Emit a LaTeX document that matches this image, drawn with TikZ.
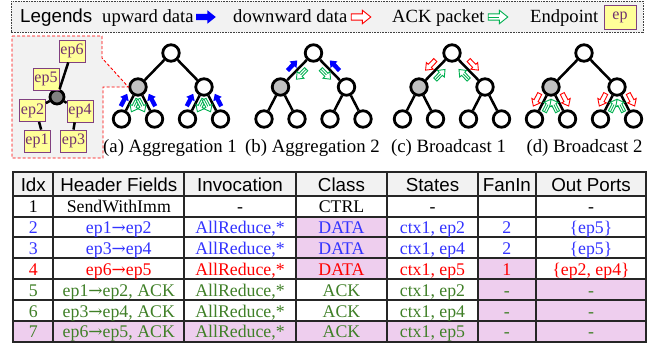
\documentclass[tikz,border=0pt]{standalone}
\usepackage{fontspec}
\setmainfont{Liberation Serif}
\setsansfont{Liberation Sans}
\newfontfamily\arrowfont{DejaVu Serif}
\usetikzlibrary{calc}
\definecolor{pinkc}{RGB}{238,206,238}
\definecolor{hdrgray}{RGB}{242,242,242}
\definecolor{bluet}{RGB}{51,51,255}
\definecolor{redt}{RGB}{255,0,0}
\definecolor{greent}{RGB}{64,128,40}
\definecolor{arrgreen}{RGB}{0,176,80}
\definecolor{epfill}{RGB}{255,255,153}
\definecolor{epdraw}{RGB}{128,64,128}
\definecolor{eptext}{RGB}{112,48,112}
\definecolor{nodegray}{RGB}{192,192,192}
\definecolor{midgray}{RGB}{128,128,128}
\newcommand\bodyfont{\fontsize{17.8}{20}\selectfont}
\newcommand\hdrfont{\sffamily\fontsize{18.8}{20}\selectfont}
\newcommand\rarr{{\arrowfont\fontsize{17}{20}\selectfont →}}
\tikzset{
 pics/dataarr/.style n args={3}{code={\begin{scope}[yshift=#1,xscale=#2]
   \path[#3] (-7,-2.2) -- (1,-2.2) -- (1,-4.8) -- (7,0) -- (1,4.8) -- (1,2.2) -- (-7,2.2) -- cycle;\end{scope}}},
 pics/ackarr/.style n args={2}{code={\begin{scope}[yshift=#1,xscale=#2]
   \path[ackstyle] (-7,-2.2) -- (1,-2.2) -- (1,-4.8) -- (7,0) -- (1,4.8) -- (1,2.2) -- (-7,2.2) -- cycle;
   \draw[arrgreen, line width=0.8pt] (-7,0) -- (1,0);\end{scope}}},
 upstyle/.style={fill=blue},
 downstyle/.style={draw=red, fill=white, line width=0.9pt},
 ackstyle/.style={draw=arrgreen, fill=white, line width=0.9pt},
 tnode/.style={circle, draw=black, line width=2.8pt, fill=white, minimum size=16.5pt, inner sep=0pt},
 gnode/.style={tnode, fill=nodegray},
 edge/.style={line width=2.5pt},
 onedge/.style={pos=0.5, sloped, allow upside down},
 epbox/.style={draw=epdraw, fill=epfill, text=eptext, line width=0.8pt, minimum width=26pt, minimum height=22pt, inner sep=1pt, font=\fontsize{16}{16}\selectfont},
 cell/.style={anchor=base, inner sep=0pt, font=\bodyfont},
 hcell/.style={anchor=base, inner sep=0pt, font=\hdrfont},
 legtext/.style={anchor=base west, inner sep=0pt, font=\fontsize{18.6}{20}\selectfont},
 captext/.style={anchor=base, inner sep=0pt, font=\fontsize{18.8}{20}\selectfont},
 grid/.style={line width=1.8pt, black!85},
}
\newcommand\drawtree[2]{%
 \node[tnode] (#1r) at (#2,53) {};
 \node[gnode] (#1L) at (#2-33,87) {};
 \node[tnode] (#1R) at (#2+33,87) {};
 \node[tnode] (#1a) at (#2-49.5,119) {};
 \node[tnode] (#1b) at (#2-16.5,119) {};
 \node[tnode] (#1c) at (#2+16.5,119) {};
 \node[tnode] (#1d) at (#2+49.5,119) {};
 \draw[edge] (#1r) -- (#1L);
 \draw[edge] (#1r) -- (#1R);
 \draw[edge] (#1L) -- (#1a);
 \draw[edge] (#1L) -- (#1b);
 \draw[edge] (#1R) -- (#1c);
 \draw[edge] (#1R) -- (#1d);
}
\newcommand\trow[9]{%
 \node[cell] (r#1c1) at (33.3,#2) {#3};
 \node[cell] (r#1c2) at (118.8,#2) {#4};
 \node[cell] (r#1c3) at (240,#2) {#5};
 \node[cell] (r#1c4) at (341.5,#2) {#6};
 \node[cell] (r#1c5) at (432.5,#2) {#7};
 \node[cell] (r#1c6) at (506.9,#2) {#8};
 \node[cell] (r#1c7) at (591,#2) {#9};}
\begin{document}
\begin{tikzpicture}[x=1pt,y=-1pt]
\useasboundingbox (0,0) rectangle (662,348);
\fill[white] (0,0) rectangle (662,348);
% legend
\path[draw=black!75, dash pattern=on 0.8pt off 0.8pt, line width=0.8pt, fill=hdrgray] (11,1) rectangle (643,32);
\node[anchor=base west, inner sep=0pt, font=\sffamily\fontsize{18.8}{20}\selectfont] (lg) at (20,23) {Legends};
\node[legtext] (lup) at (102,23) {upward data};
\pic[scale=1.4] at (206,17) {dataarr={0pt}{1}{upstyle}};
\node[legtext] (ldn) at (233,23) {downward data};
\pic[scale=1.4] at (361,17) {dataarr={0pt}{1}{downstyle}};
\node[legtext] (lack) at (392,23) {ACK packet};
\pic[scale=1.4] at (498,17) {ackarr={0pt}{1}};
\node[legtext] (lend) at (530,23) {Endpoint};
\node[epbox, minimum width=32pt, minimum height=24pt] (lep) at (620,17) {ep};
% trees
\drawtree{a}{171}
\drawtree{b}{313.5}
\drawtree{c}{452}
\drawtree{d}{584}
% tree a arrows
\path (aL) -- (aa) pic[onedge] {dataarr={-6.5pt}{-1}{upstyle}};
\path (aL) -- (aa) pic[onedge] {ackarr={5.5pt}{1}};
\path (aL) -- (ab) pic[onedge] {dataarr={6.5pt}{-1}{upstyle}};
\path (aL) -- (ab) pic[onedge] {ackarr={-5.5pt}{1}};
\path (aR) -- (ac) pic[onedge] {dataarr={-6.5pt}{-1}{upstyle}};
\path (aR) -- (ac) pic[onedge] {ackarr={5.5pt}{1}};
\path (aR) -- (ad) pic[onedge] {dataarr={6.5pt}{-1}{upstyle}};
\path (aR) -- (ad) pic[onedge] {ackarr={-5.5pt}{1}};
% tree b arrows
\path (br) -- (bL) pic[onedge] {dataarr={-6.5pt}{-1}{upstyle}};
\path (br) -- (bL) pic[onedge] {ackarr={6pt}{1}};
\path (br) -- (bR) pic[onedge] {dataarr={6.5pt}{-1}{upstyle}};
\path (br) -- (bR) pic[onedge] {ackarr={-6pt}{1}};
% tree c arrows
\path (cr) -- (cL) pic[onedge] {dataarr={-7pt}{1}{downstyle}};
\path (cr) -- (cL) pic[onedge] {ackarr={6.5pt}{-1}};
\path (cr) -- (cR) pic[onedge] {dataarr={7pt}{1}{downstyle}};
\path (cr) -- (cR) pic[onedge] {ackarr={-6.5pt}{-1}};
% tree d arrows
\path (dL) -- (da) pic[onedge] {dataarr={-7pt}{1}{downstyle}};
\path (dL) -- (da) pic[onedge] {ackarr={5.5pt}{-1}};
\path (dL) -- (db) pic[onedge] {dataarr={7pt}{1}{downstyle}};
\path (dL) -- (db) pic[onedge] {ackarr={-5.5pt}{-1}};
\path (dR) -- (dc) pic[onedge] {dataarr={-7pt}{1}{downstyle}};
\path (dR) -- (dc) pic[onedge] {ackarr={5.5pt}{-1}};
\path (dR) -- (dd) pic[onedge] {dataarr={7pt}{1}{downstyle}};
\path (dR) -- (dd) pic[onedge] {ackarr={-5.5pt}{-1}};
% callout
\path[draw=red, dash pattern=on 3pt off 2pt, line width=0.9pt, fill=hdrgray] (12,36) -- (102,36) -- (102,58) -- (aL.west) -- (103,87) -- (103,158) -- (12,158) -- cycle;
\node[circle, draw=black, line width=2.8pt, fill=midgray, minimum size=14pt, inner sep=0pt] (cg) at (57,97) {};
\node[epbox] (ep6) at (72,51) {ep6};
\node[epbox] (ep5) at (46,79) {ep5};
\node[epbox] (ep2) at (32.5,110.5) {ep2};
\node[epbox] (ep4) at (80,111) {ep4};
\node[epbox] (ep1) at (37,141) {ep1};
\node[epbox] (ep3) at (73.5,141) {ep3};
\draw[edge] (cg) -- (ep6);
\draw[edge] (cg) -- (ep2);
\draw[edge] (cg) -- (ep4);
\draw[edge] (ep1.70) -- (ep2.-60);
\draw[edge] (ep3.north) -- (ep4.-115);
% captions
\node[captext] (capa) at (170,152) {(a) Aggregation 1};
\node[captext] (capb) at (312.5,152) {(b) Aggregation 2};
\node[captext] (capc) at (448.5,152) {(c) Broadcast 1};
\node[captext] (capd) at (584.5,152) {(d) Broadcast 2};
% table fills
\fill[hdrgray] (13,172.3) rectangle (646,195.7);
\fill[pinkc] (295.7,216.7) rectangle (387.3,279);
\fill[pinkc] (477.7,258.3) rectangle (536,279);
\fill[pinkc] (477.7,279) rectangle (646,321);
\fill[pinkc] (13,321) rectangle (646,341.7);
% grid
\foreach \yy in {172.3,195.7,216.7,237.3,258.3,279,300,321,341.7}
  \draw[grid] (12.1,\yy) -- (646.9,\yy);
\foreach \xx in {13.3,53.3,184.3,295.7,387.3,477.7,536,646}
  \draw[grid] (\xx,172.3) -- (\xx,341.7);
% header
\node[hcell] (h1) at (33.3,191.9) {Idx};
\node[hcell] (h2) at (118.8,191.9) {Header Fields};
\node[hcell] (h3) at (240,191.9) {Invocation};
\node[hcell] (h4) at (341.5,191.9) {Class};
\node[hcell] (h5) at (432.5,191.9) {States};
\node[hcell] (h6) at (506.9,191.9) {FanIn};
\node[hcell] (h7) at (591,191.9) {Out Ports};
% rows
\trow{1}{212.9}{1}{SendWithImm}{-}{CTRL}{-}{}{-}
\begin{scope}[every node/.append style={text=bluet}]
\trow{2}{233.5}{2}{ep1\rarr ep2}{AllReduce,*}{DATA}{ctx1, ep2}{2}{\{ep5\}}
\trow{3}{254.5}{3}{ep3\rarr ep4}{AllReduce,*}{DATA}{ctx1, ep4}{2}{\{ep5\}}
\end{scope}
\begin{scope}[every node/.append style={text=redt}]
\trow{4}{275.2}{4}{ep6\rarr ep5}{AllReduce,*}{DATA}{ctx1, ep5}{1}{\{ep2, ep4\}}
\end{scope}
\begin{scope}[every node/.append style={text=greent}]
\trow{5}{296.2}{5}{ep1\rarr ep2, ACK}{AllReduce,*}{ACK}{ctx1, ep2}{-}{-}
\trow{6}{317.2}{6}{ep3\rarr ep4, ACK}{AllReduce,*}{ACK}{ctx1, ep4}{-}{-}
\trow{7}{337.9}{7}{ep6\rarr ep5, ACK}{AllReduce,*}{ACK}{ctx1, ep5}{-}{-}
\end{scope}
\end{tikzpicture}
\end{document}
